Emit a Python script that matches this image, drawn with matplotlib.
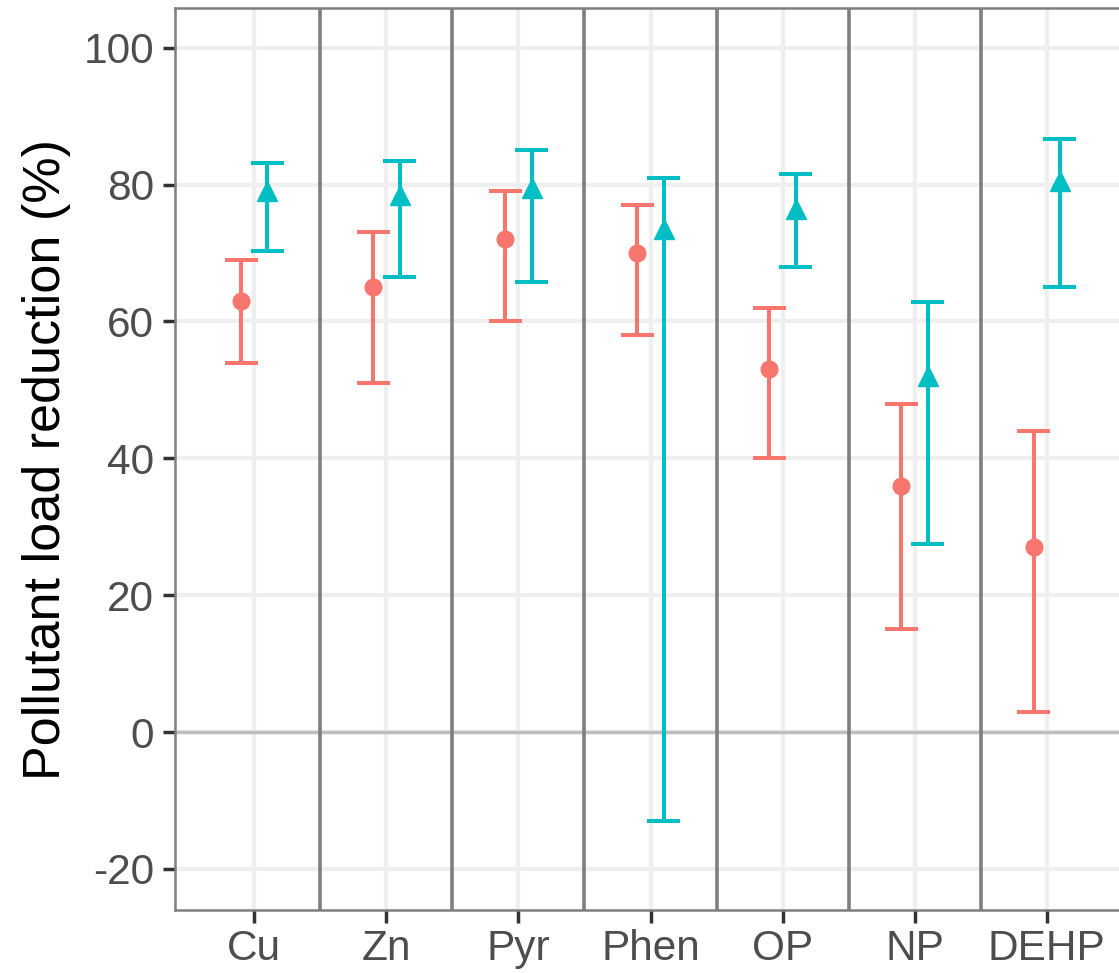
import matplotlib
matplotlib.use("Agg")
import matplotlib.pyplot as plt
import numpy as np

plt.rcParams['font.family'] = ['Liberation Sans', 'DejaVu Sans']
plt.rcParams['axes.unicode_minus'] = False

pollutants = ["Cu", "Zn", "Pyr", "Phen", "OP", "NP", "DEHP"]

# red series (circles)
red_mean = [63, 65, 72, 70, 53, 36, 27]
red_low = [54, 51, 60, 58, 40, 15, 3]
red_high = [69, 73, 79, 77, 62, 48, 44]

# teal series (triangles)
teal_mean = [79, 78.5, 79.5, 73.5, 76.5, 52, 80.5]
teal_low = [70.3, 66.5, 65.8, -13, 68, 27.5, 65]
teal_high = [83.2, 83.5, 85, 81, 81.5, 62.8, 86.7]

yticks = [-20, 0, 20, 40, 60, 80, 100]

red = "#F8766D"
teal = "#00BFC4"

fig = plt.figure(figsize=(11.19, 9.73), dpi=100)
ax = fig.add_axes([175/1119, 63/973, 951/1119, 902/973])

x = np.arange(1, len(pollutants) + 1)
dodge = 0.1

# grid
for yt in yticks:
    ax.axhline(yt, color="#EFEFEF", lw=3, zorder=0)
for xt in x:
    ax.axvline(xt, color="#EFEFEF", lw=3, zorder=0)
ax.axhline(0, color="#BEBEBE", lw=2.5, zorder=1)
for xs in x[:-1] + 0.5:
    ax.axvline(xs, color="#7F7F7F", lw=2.6, zorder=1)

def draw(xpos, mean, low, high, color, marker, ms):
    for xi, m, lo, hi in zip(xpos, mean, low, high):
        ax.plot([xi, xi], [lo, hi], color=color, lw=2.9, zorder=3, solid_capstyle="butt")
        ax.plot([xi - 0.125, xi + 0.125], [lo, lo], color=color, lw=2.9, zorder=3, solid_capstyle="butt")
        ax.plot([xi - 0.125, xi + 0.125], [hi, hi], color=color, lw=2.9, zorder=3, solid_capstyle="butt")
    ax.plot(xpos, mean, linestyle="none", marker=marker, color=color, ms=ms, zorder=4)

draw(x - dodge, red_mean, red_low, red_high, red, "o", 12)
draw(x + dodge, teal_mean, teal_low, teal_high, teal, "^", 15)

ax.set_xlim(0.4, 7.6)
ax.set_ylim(-26, 105.8)
ax.set_xticks(x)
ax.set_xticklabels(pollutants)
ax.set_yticks(yticks)
ax.tick_params(axis="both", colors="#333333", width=2.5, length=9, labelsize=30.5, labelcolor="#4D4D4D")
ax.tick_params(axis="x", pad=5)
ax.tick_params(axis="y", pad=6)

for side in ["left", "bottom", "top"]:
    ax.spines[side].set_color("#7F7F7F")
    ax.spines[side].set_linewidth(1.8)
ax.spines["right"].set_visible(False)

ax.set_ylabel("Pollutant load reduction (%)", fontsize=37.5, color="black", labelpad=9)

fig.savefig("out.png", dpi=100)
